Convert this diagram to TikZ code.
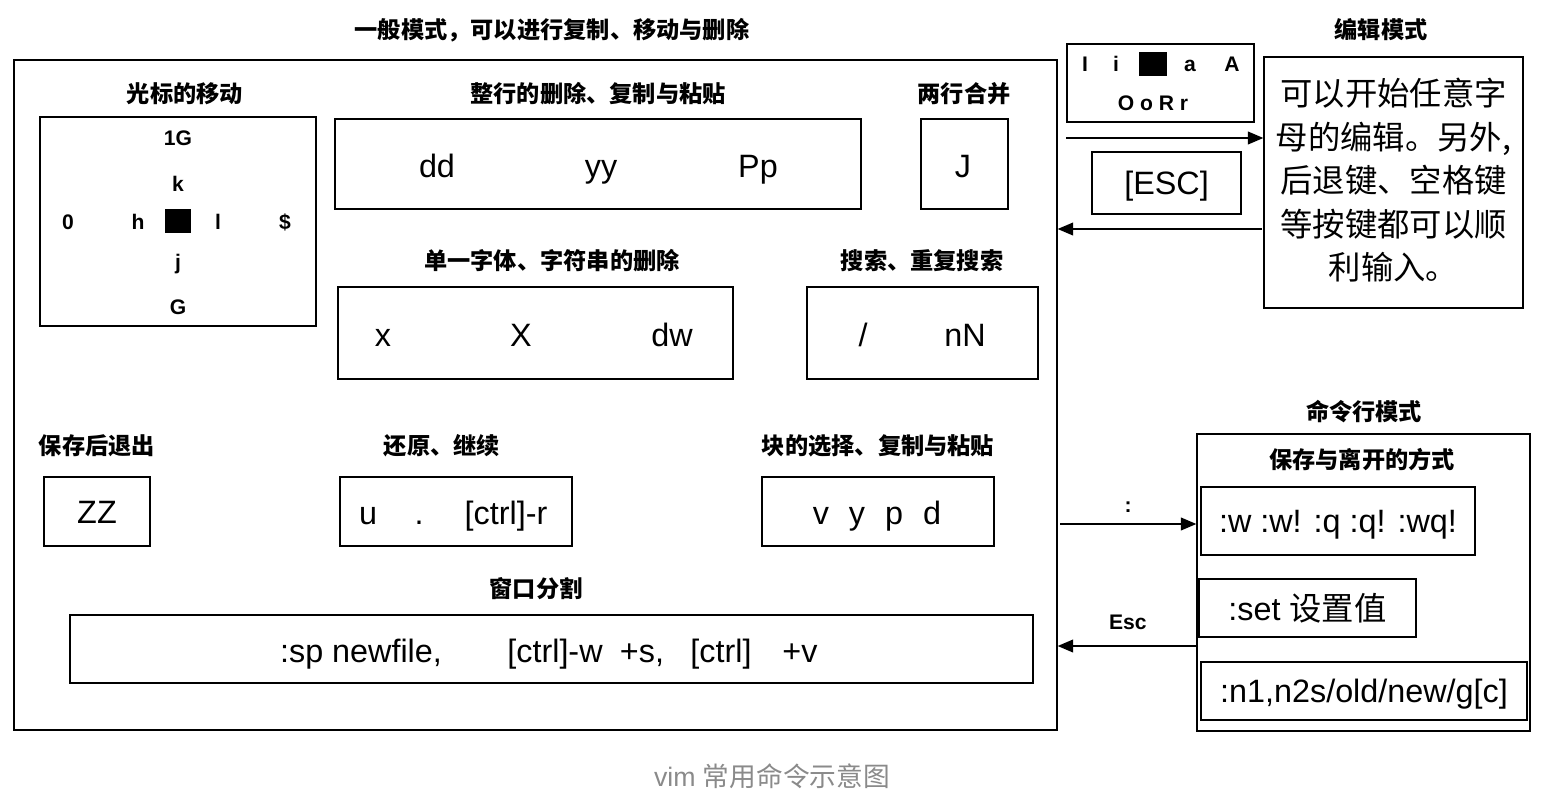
\documentclass[tikz,border=0pt]{standalone}
\usepackage{fontspec}
\setmainfont{Liberation Sans}
\newfontfamily\cjk{Noto Sans CJK SC}
\usetikzlibrary{arrows.meta,fit,positioning}
\definecolor{captiongray}{HTML}{8A8A8A}

\begin{document}
\begin{tikzpicture}[
  x=0.025cm, y=-0.025cm,
  box/.style={draw=black, line width=0.9pt, inner sep=0pt},
  ttl/.style={font=\fontsize{16.5}{18}\selectfont\cjk\bfseries},
  lbl/.style={font=\fontsize{15}{18}\selectfont\bfseries, text height=10.8pt, text depth=0pt},
  big/.style={font=\fontsize{23}{26}\selectfont, text height=16.6pt, text depth=0pt},
  cjkbig/.style={font=\fontsize{23}{31}\selectfont\cjk, align=center},
  cursor/.style={fill=black, inner sep=0pt, minimum width=0.67cm, minimum height=0.6cm},
  flow/.style={-{Triangle[length=11pt,width=9pt]}, line width=1.3pt}
]
  \useasboundingbox (0,0) rectangle (1552,802);

  % normal mode
  \node[ttl] (normaltitle) at (552,30) {一般模式，可以进行复制、移动与删除};
  \node[box, fit={(14,60) (1057,730)}] (normal) {};

  \node[ttl] (curtitle) at (185,94) {光标的移动};
  \node[box, fit={(40,117) (316,326)}] (curbox) {};
  \node[lbl] (top) at (178,138) {1G};
  \node[lbl] (up) at (178,184) {k};
  \node[lbl] (home) at (68,222) {0};
  \node[lbl] (left) at (138,222) {h};
  \node[cursor] (here) at (178,221) {};
  \node[lbl] (right) at (218,222) {l};
  \node[lbl] (end) at (285,222) {\$};
  \node[lbl] (down) at (178,262) {j};
  \node[lbl] (bottom) at (178,307) {G};

  \node[ttl] (linetitle) at (598,94) {整行的删除、复制与粘贴};
  \node[box, fit={(335,119) (861,209)}] (linebox) {};
  \node[big] (dd) at (437,166) {dd};
  \node[big] (yy) at (601,166) {yy};
  \node[big] (Pp) at (758,166) {Pp};

  \node[ttl] (jointitle) at (964,94) {两行合并};
  \node[box, fit={(921,119) (1008,209)}] (joinbox) {};
  \node[big] (J) at (963,166) {J};

  \node[ttl] (deltitle) at (552,261) {单一字体、字符串的删除};
  \node[box, fit={(338,287) (733,379)}] (delbox) {};
  \node[big] (x) at (383,335) {x};
  \node[big] (X) at (521,335) {X};
  \node[big] (dw) at (672,335) {dw};

  \node[ttl] (findtitle) at (922,261) {搜索、重复搜索};
  \node[box, fit={(807,287) (1038,379)}] (findbox) {};
  \node[big] (slash) at (863,335) {/};
  \node[big] (nN) at (965,335) {nN};

  \node[ttl] (savetitle) at (97,446) {保存后退出};
  \node[box, fit={(44,477) (150,546)}] (savebox) {};
  \node[big] (ZZ) at (97,512) {ZZ};

  \node[ttl] (undotitle) at (442,446) {还原、继续};
  \node[box, fit={(340,477) (572,546)}] (undobox) {};
  \node[big] (u) at (368,513) {u};
  \node[big] (dot) at (419,513) {.};
  \node[big] (redo) at (506,513) {[ctrl]-r};

  \node[ttl] (blocktitle) at (878,446) {块的选择、复制与粘贴};
  \node[box, fit={(762,477) (994,546)}] (blockbox) {};
  \node[big] (v) at (821,513) {v};
  \node[big] (y) at (857,513) {y};
  \node[big] (p) at (894,513) {p};
  \node[big] (d) at (932,513) {d};

  \node[ttl] (splittitle) at (536,589) {窗口分割};
  \node[box, fit={(70,615) (1033,683)}] (splitbox) {};
  \node[big] (sp) at (361,651) {:sp newfile,};
  \node[big] (ctrlw) at (555,651) {[ctrl]-w};
  \node[big] (plusS) at (642,651) {+s,};
  \node[big] (ctrl) at (721,651) {[ctrl]};
  \node[big] (plusV) at (800,651) {+v};

  % insert mode
  \node[ttl] (edittitle) at (1381,30) {编辑模式};
  \node[box, fit={(1067,44) (1254,122)}] (keybox) {};
  \node[lbl] (I) at (1085,64) {I};
  \node[lbl] (i) at (1116,64) {i};
  \node[cursor, minimum width=0.7cm] (mark) at (1153,64) {};
  \node[lbl] (a) at (1190,64) {a};
  \node[lbl] (A) at (1232,64) {A};
  \node[lbl] (OoRr) at (1153,103) {O o R r};
  \node[box, fit={(1264,57) (1523,308)}] (edit) {};
  \node[cjkbig] (edittext) at ([yshift=1.5pt]edit.center) {可以开始任意字\\母的编辑。另外,\\后退键、空格键\\等按键都可以顺\\利输入。};
  \node[box, fit={(1092,152) (1241,214)}] (escbox) {};
  \node[big] (esc) at (escbox.center) {[ESC]};

  \coordinate (enter) at (1066,138);
  \coordinate (leave) at (1262,229);
  \draw[flow] (enter) -- (enter -| edit.west);
  \draw[flow] (leave) -- (leave -| normal.east);

  % command-line mode
  \node[ttl] (cmdtitle) at (1364,412) {命令行模式};
  \node[box, fit={(1197,434) (1530,731)}] (cmd) {};
  \node[ttl] (quittitle) at (1362,460) {保存与离开的方式};
  \node[box, fit={(1201,487) (1475,555)}] (wbox) {};
  \node[big] (wq) at (wbox.center) {:w :w! :q :q! :wq!};
  \node[box, fit={(1199,579) (1416,637)}] (setbox) {};
  \node[font=\fontsize{23}{26}\selectfont] (set) at (setbox.center) {:set {\cjk 设置值}};
  \node[box, fit={(1201,662) (1527,720)}] (subbox) {};
  \node[big] (sub) at (subbox.center) {:n1,n2s/old/new/g[c]};

  \coordinate (colon) at (1060,524);
  \coordinate (back) at (1198,646);
  \draw[flow] (colon) -- node[lbl, above=4pt] (colonlbl) {:} (colon -| cmd.west);
  \draw[flow] (back) -- node[lbl, above=8pt] (esclbl) {Esc} (back -| normal.east);

  \node[font=\fontsize{19}{22}\selectfont, text=captiongray] (caption) at (772,776) {vim {\cjk 常用命令示意图}};
\end{tikzpicture}
\end{document}
